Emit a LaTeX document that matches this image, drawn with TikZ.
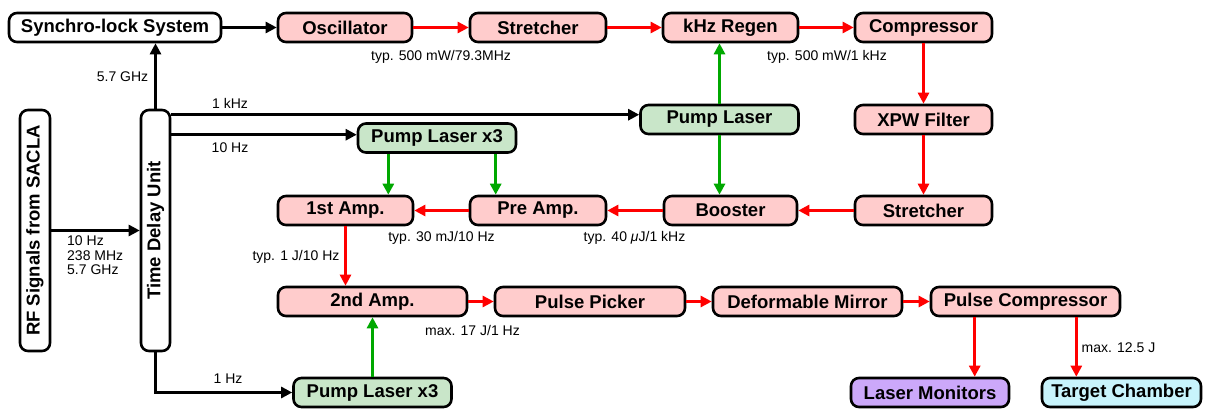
\documentclass[tikz,border=0pt]{standalone}
\usepackage{fontspec}
\setmainfont{Liberation Sans}
\usepackage{graphicx}
\usetikzlibrary{arrows.meta,calc}
\definecolor{boxred}{HTML}{FFCCCC}
\definecolor{boxgreen}{HTML}{C9E6C9}
\definecolor{boxpurple}{HTML}{CCA8FA}
\definecolor{boxcyan}{HTML}{C8F4FC}
\definecolor{arrred}{HTML}{FF0000}
\definecolor{arrgreen}{HTML}{00A800}
\begin{document}
\begin{tikzpicture}[x=1pt,y=-1pt,
  box/.style={draw=black, line width=2.6pt, rounded corners=8pt, minimum height=29pt, inner sep=0pt, font=\fontsize{18.5}{20}\selectfont\bfseries},
  whitebox/.style={box, fill=white},
  redbox/.style={box, fill=boxred},
  greenbox/.style={box, fill=boxgreen},
  purplebox/.style={box, fill=boxpurple},
  cyanbox/.style={box, fill=boxcyan},
  lbl/.style={font=\fontsize{14}{14.5}\selectfont, inner sep=0pt},
  arrowtip/.style={-{Triangle[length=11pt,width=11pt]}, line width=2.6pt},
  blackarrow/.style={arrowtip, draw=black},
  redarrow/.style={arrowtip, draw=arrred},
  greenarrow/.style={arrowtip, draw=arrgreen, line width=3pt}]
\useasboundingbox (0,0) rectangle (1206,410);

% nodes
\node[whitebox, minimum width=212pt] (sync) at (115,27.5) {Synchro-lock System};
\node[redbox, minimum width=134pt] (osc) at (345,27.5) {Oscillator};
\node[redbox, minimum width=136pt] (str1) at (538,27.5) {Stretcher};
\node[redbox, minimum width=135pt] (khz) at (730.5,27.5) {kHz Regen};
\node[redbox, minimum width=137pt] (comp) at (923.5,27.5) {Compressor};
\node[redbox, minimum width=137pt] (xpw) at (923.5,119.5) {XPW Filter};
\node[greenbox, minimum width=158pt] (pl) at (719.5,119.5) {Pump Laser};
\node[greenbox, minimum width=158pt] (pl3) at (437,138) {Pump Laser x3};
\node[redbox, minimum width=135pt] (amp1) at (345.5,210.5) {1st Amp.};
\node[redbox, minimum width=136pt] (pre) at (538,210.5) {Pre Amp.};
\node[redbox, minimum width=133pt] (boost) at (730.5,210.5) {Booster};
\node[redbox, minimum width=137pt] (str2) at (923.5,210.5) {Stretcher};
\node[redbox, minimum width=189pt] (amp2) at (372.5,301.5) {2nd Amp.};
\node[redbox, minimum width=190pt] (pp) at (590,301.5) {Pulse Picker};
\node[redbox, minimum width=189pt] (dm) at (807.5,301.5) {Deformable Mirror};
\node[redbox, minimum width=189pt] (pc) at (1025.5,301.5) {Pulse Compressor};
\node[purplebox, minimum width=158pt] (lm) at (930,392.5) {Laser Monitors};
\node[cyanbox, minimum width=159pt] (tc) at (1121.5,392.5) {Target Chamber};
\node[greenbox, minimum width=158pt] (pl3b) at (372.5,392.5) {Pump Laser x3};
\node[whitebox, minimum width=30pt, minimum height=241pt] (rf) at (35,230.5) {\rotatebox{90}{RF Signals from SACLA}};
\node[whitebox, minimum width=29pt, minimum height=241pt] (tdu) at (155.5,230.5) {\rotatebox{90}{Time Delay Unit}};

% red beam path
\draw[blackarrow] (sync.east) -- (osc.west);
\draw[redarrow] (osc.east) -- (str1.west);
\draw[redarrow] (str1.east) -- (khz.west);
\draw[redarrow] (khz.east) -- (comp.west);
\draw[redarrow] (comp.south) -- (xpw.north);
\draw[redarrow] (xpw.south) -- (str2.north);
\draw[redarrow] (str2.west) -- (boost.east);
\draw[redarrow] (boost.west) -- (pre.east);
\draw[redarrow] (pre.west) -- (amp1.east);
\draw[redarrow] (amp1.south) -- (amp2.north -| amp1.south);
\draw[redarrow] (amp2.east) -- (pp.west);
\draw[redarrow] (pp.east) -- (dm.west);
\draw[redarrow] (dm.east) -- (pc.west);
\coordinate (pcl) at ($(pc.south west)+(45,0)$);
\coordinate (pcr) at ($(pc.south east)+(-45,0)$);
\draw[redarrow] (pcl) -- (pcl |- lm.north);
\draw[redarrow] (pcr) -- (pcr |- tc.north);

% green pump paths
\draw[greenarrow] (pl.north) -- (pl.north |- khz.south);
\draw[greenarrow] (pl.south) -- (pl.south |- boost.north);
\coordinate (g1) at ($(amp1.north east)+(-26,0)$);
\draw[greenarrow] (g1 |- pl3.south) -- (g1);
\coordinate (g2) at ($(pre.north west)+(27,0)$);
\draw[greenarrow] (g2 |- pl3.south) -- (g2);
\draw[greenarrow] (pl3b.north) -- (pl3b.north |- amp2.south);

% black signal paths
\draw[blackarrow] (rf.east) -- (tdu.west);
\draw[blackarrow] (tdu.north) -- (tdu.north |- sync.south);
\coordinate (k1) at ($(tdu.north east)+(0,6)$);
\draw[blackarrow] (k1) -- (k1 -| pl.west);
\coordinate (k2) at ($(tdu.north east)+(0,26)$);
\draw[blackarrow] (k2) -- (k2 -| pl3.west);
\draw[blackarrow] (tdu.south) |- (pl3b.west);

% labels
\node[lbl] (l1) at (441,57) {typ. 500 mW/79.3MHz};
\node[lbl] (l2) at (827,57) {typ. 500 mW/1 kHz};
\node[lbl] (l3) at (441.5,238) {typ. 30 mJ/10 Hz};
\node[lbl] (l4) at (634.5,238) {typ. 40 {\itshape μ}J/1 kHz};
\node[lbl] (l5) at (296,257) {typ. 1 J/10 Hz};
\node[lbl] (l6) at (472.5,330) {max. 17 J/1 Hz};
\node[lbl] (l7) at (1118.5,348) {max. 12.5 J};
\node[lbl] (l8) at (122.5,77) {5.7 GHz};
\node[lbl] (l9) at (230,103) {1 kHz};
\node[lbl] (l10) at (230,148) {10 Hz};
\node[lbl] (l11) at (228,379) {1 Hz};
\node[lbl, anchor=west, align=left] (l12) at (67,255.5) {10 Hz\\238 MHz\\5.7 GHz};
\end{tikzpicture}
\end{document}
